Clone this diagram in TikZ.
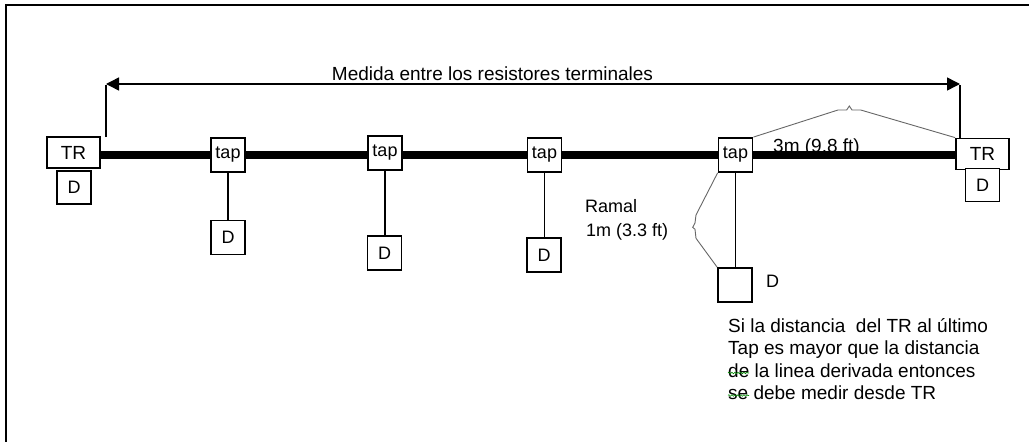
\documentclass[tikz,border=0pt]{standalone}
\usepackage{fontspec}
\setmainfont{Liberation Sans}
\usetikzlibrary{arrows.meta,decorations.pathmorphing}

\begin{document}
\begin{tikzpicture}[x=1pt,y=-1pt,
  box/.style={draw, fill=white, line width=1.8pt, inner sep=0pt,
              font=\fontsize{18}{20}\selectfont},
  tapbox/.style={box, minimum width=34pt, minimum height=34pt},
  devbox/.style={box, minimum width=34pt, minimum height=34pt},
  trbox/.style={box, minimum width=53pt, minimum height=31pt,
                font=\fontsize{19}{21}\selectfont},
  bus/.style={line width=8pt},
  stub/.style={line width=1.8pt},
  tick/.style={line width=1.8pt},
  brace/.style={draw=black!60, line width=0.9pt, line join=miter},
  txt/.style={font=\fontsize{19}{22}\selectfont, inner sep=0pt},
  smalltxt/.style={font=\fontsize{18}{21}\selectfont, inner sep=0pt},
  dimline/.style={line width=1.5pt,
    {Triangle[length=13pt,width=13pt]}-{Triangle[length=13pt,width=13pt]}},
  squiggle/.style={draw=green!55!black, line width=0.6pt, decorate,
    decoration={snake, amplitude=0.8pt, segment length=3pt}},
]
\useasboundingbox (0,0) rectangle (1029,442);

% outer frame (top and left edges)
\draw[line width=2pt] (6,442) -- (6,5) -- (1029,5);

% terminal resistors with their devices
\node[trbox] (TRL) at (73.5,152.5) {TR};
\node[devbox, minimum height=33pt] (DL) at (74,187.5) {D};
\node[trbox] (TRR) at (982.5,154) {TR};
\node[devbox, minimum height=33pt] (DR) at (982.5,185) {D};

% taps along the trunk and their drop devices
\node[tapbox] (tap1) at (228,155) {tap};
\node[devbox] (D1) at (228,237.5) {D};
\node[tapbox] (tap2) at (385,153) {tap};
\node[devbox] (D2) at (384.5,253) {D};
\node[tapbox] (tap3) at (544.5,155) {tap};
\node[devbox] (D3) at (544,255) {D};
\node[tapbox] (tap4) at (735.5,155) {tap};
\node[devbox] (D4) at (735,285) {};
\node[smalltxt, anchor=base west] (D4lbl) at (766,287) {D};

% length label partly hidden by the trunk
\node[txt, anchor=base west] (len3m) at (773,152) {3m (9.8 ft)};

% trunk line
\coordinate (busY) at (0,155);
\draw[bus] (TRL.east |- busY) -- (tap1.west |- busY);
\draw[bus] (tap1.east |- busY) -- (tap2.west |- busY);
\draw[bus] (tap2.east |- busY) -- (tap3.west |- busY);
\draw[bus] (tap3.east |- busY) -- (tap4.west |- busY);
\draw[bus] (tap4.east |- busY) -- (TRR.west |- busY);

% drop lines
\draw[stub] (tap1.south) -- (tap1.south |- D1.north);
\draw[stub] (tap2.south) -- (tap2.south |- D2.north);
\draw[stub] (tap3.south) -- (tap3.south |- D3.north);
\draw[stub] (tap4.south) -- (tap4.south |- D4.north);

% overall measurement between the terminal resistors
\coordinate (tickL) at (106,137);
\coordinate (dimL) at (106,84);
\coordinate (tickR) at (960,139);
\coordinate (dimR) at (960,84);
\draw[tick] (tickL) -- ([yshift=-1pt]dimL);
\draw[tick] (tickR) -- ([yshift=-1pt]dimR);
\draw[dimline] (dimL) -- (dimR);
\node[txt, anchor=base] (title) at (492.5,80)
  {Medida entre los resistores terminales};

% brace over the last trunk section
\draw[brace] (tap4.north east) -- (838,110) -- (846.7,110) -- (849.3,106)
  -- (852,110) -- (860.7,110) -- (TRR.north west);

% brace beside the last drop line
\draw[brace] (tap4.south west) -- (696,215) -- (695,223) -- (692.7,227.3)
  -- (695,229.3) -- (696,238.3) -- (D4.north west);

\node[smalltxt, anchor=base west] (ramal) at (585,212.7) {Ramal};
\node[smalltxt, anchor=base west] (ramallen) at (586,236.5) {1m (3.3 ft)};

% note below the last tap
\node[txt, anchor=base west] (note1) at (728,332) {Si la distancia\ \ del TR al último};
\node[txt, anchor=base west] (note2) at (728,354.5) {Tap es mayor que la distancia};
\node[txt, anchor=base west] (note3) at (728,377) {de la linea derivada entonces};
\node[txt, anchor=base west] (note4) at (728,399.5) {se debe medir desde TR};
\draw[squiggle] (728,373) -- (749,373);
\draw[squiggle] (728,395.5) -- (749,395.5);
\end{tikzpicture}
\end{document}
